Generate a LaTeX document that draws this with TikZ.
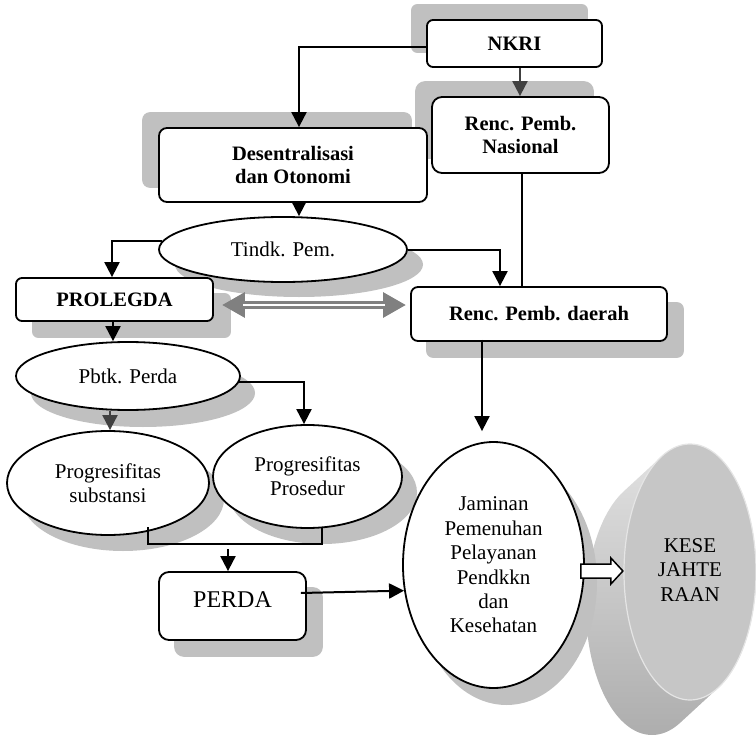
\documentclass[tikz,border=0pt]{standalone}
\usepackage{fontspec}
\setmainfont{Liberation Serif}
\usetikzlibrary{shapes.geometric,arrows.meta,calc,backgrounds}

\definecolor{shadowgray}{RGB}{192,192,192}
\definecolor{darkarrow}{RGB}{64,64,64}
\definecolor{linkgray}{RGB}{128,128,128}
\definecolor{faceg}{RGB}{198,198,198}

\tikzset{
  box/.style={draw, line width=1.8pt, fill=white, rounded corners=7pt,
    align=center, inner sep=0pt},
  oval/.style={draw, ellipse, line width=1.8pt, fill=white, align=center,
    inner sep=0pt, font=\fontsize{21}{24.4}\selectfont},
  bft/.style={font=\fontsize{20.5}{23.5}\selectfont\bfseries},
  conn/.style={line width=2pt},
  arr/.style={conn, -{Triangle[length=15pt,width=15pt]}},
  arrdark/.style={arr, draw=darkarrow},
  shade box/.style={fill=shadowgray},
}

\begin{document}
\begin{tikzpicture}[x=1pt, y=-1pt]
\useasboundingbox (0,0) rectangle (756,736);

% ---- nodes ----
\node[box, bft, rounded corners=6pt, minimum width=175pt, minimum height=47pt] (nkri) at (514.5,43.5) {NKRI};
\node[box, bft, rounded corners=10pt, minimum width=177pt, minimum height=76pt] (nas) at (520.5,135) {Renc. Pemb.\\Nasional};
\node[box, bft, rounded corners=8pt, minimum width=268pt, minimum height=74pt] (des) at (293,165) {Desentralisasi\\dan Otonomi};
\node[oval, minimum width=248pt, minimum height=65pt] (tindk) at (283,249.5) {Tindk. Pem.};
\node[box, bft, rounded corners=6pt, minimum width=197pt, minimum height=43pt] (prol) at (114.5,299.5) {PROLEGDA};
\node[box, bft, rounded corners=7pt, minimum width=256pt, minimum height=54pt] (daerah) at (539,314) {Renc. Pemb. daerah};
\node[oval, minimum width=224pt, minimum height=68pt] (pbtk) at (128,376) {Pbtk. Perda};
\node[oval, minimum width=202pt, minimum height=104pt] (subst) at (108,483) {Progresifitas\\substansi};
\node[oval, minimum width=189pt, minimum height=103pt] (pros) at (307.5,476.5) {Progresifitas\\Prosedur};
\node[box, rounded corners=10pt, minimum width=147pt, minimum height=68pt, text depth=12pt,
      font=\fontsize{24}{28}\selectfont] (perda) at (232.5,606) {PERDA};
\node[oval, minimum width=181pt, minimum height=246pt] (jam) at (493.5,565)
  {Jaminan\\Pemenuhan\\Pelayanan\\Pendkkn\\dan\\Kesehatan};

% ---- disc "KESE JAHTE RAAN" and all drop shadows ----
\coordinate (discback) at (652,607);
\coordinate (discfront) at (690,572);
\begin{pgfonlayer}{background}
  \begin{scope}
    \clip foreach \i in {0,...,24} { ($(discback)!{\i/24}!(discfront)$) ellipse [x radius=66pt, y radius=128pt] };
    \shade[top color=white!89!black, middle color=white!86!black, bottom color=white!68!black]
      (570,440) rectangle (756,736);
  \end{scope}
  \fill[faceg] (discfront) ellipse [x radius=66pt, y radius=128pt];
  \draw[white!90!black, line width=1.2pt] (discfront) ellipse [x radius=66pt, y radius=128pt];

  % shadows up-left
  \fill[shade box, rounded corners=6pt] ($(nkri.south west)+(-15,-15)$) rectangle ($(nkri.north east)+(-15,-15)$);
  \fill[shade box, rounded corners=10pt] ($(nas.south west)+(-16,-15)$) rectangle ($(nas.north east)+(-16,-15)$);
  \fill[shade box, rounded corners=8pt] ($(des.south west)+(-16,-15)$) rectangle ($(des.north east)+(-16,-15)$);
  % shadows down-right
  \fill[shade box, rounded corners=6pt] ($(prol.south west)+(17,16)$) rectangle ($(prol.north east)+(17,16)$);
  \fill[shade box, rounded corners=7pt] ($(daerah.south west)+(16,16)$) rectangle ($(daerah.north east)+(16,16)$);
  \fill[shade box, rounded corners=10pt] ($(perda.south west)+(16,16)$) rectangle ($(perda.north east)+(16,16)$);
  \fill[shade box] ($(tindk.center)+(16,15)$) ellipse [x radius=124pt, y radius=32.5pt];
  \fill[shade box] ($(pbtk.center)+(15,17)$) ellipse [x radius=112pt, y radius=34pt];
  \fill[shade box] ($(subst.center)+(15,16)$) ellipse [x radius=101pt, y radius=52pt];
  \fill[shade box] ($(pros.center)+(15,16)$) ellipse [x radius=94.5pt, y radius=51.5pt];
  \fill[shade box] ($(jam.center)+(13,17)$) ellipse [x radius=90.5pt, y radius=123pt];
\end{pgfonlayer}

\node[align=center, font=\fontsize{21}{24.4}\selectfont] (kese) at (690,570) {KESE\\JAHTE\\RAAN};

% ---- helper points for connectors ----
\coordinate (a1) at ($(nkri.west)+(0,3)$);
\coordinate (a1e) at ($(des.north)+(6,0)$);
\coordinate (a2) at ($(nkri.south)+(5.5,0)$);
\coordinate (a3) at ($(des.south)+(6,0)$);
\coordinate (a4e) at ($(prol.north)+(-2.5,0)$);
\coordinate (a5e) at ($(daerah.north)+(-39,0)$);
\coordinate (a6) at ($(nas.south)+(1.5,0)$);
\coordinate (a7) at ($(prol.south)+(-1.5,0)$);
\coordinate (a8e) at ($(pros.north)+(-3.5,0)$);
\coordinate (a9) at ($(pbtk.south)+(-18,0)$);
\coordinate (bl) at ($(subst.center)+(40,44)$);
\coordinate (br) at ($(pros.center)+(14.5,50.5)$);
\coordinate (a10s) at ($(perda.north)+(-4.5,-22)$);
\coordinate (a10e) at ($(perda.north)+(-4.5,0)$);
\coordinate (a11s) at ($(perda.east)+(-6,-13)$);
\coordinate (a12s) at ($(daerah.south)+(-57,-2)$);
\coordinate (a12e) at ($(jam.north)+(-11.5,-10)$);
\coordinate (dl) at ($(prol.east)+(8,5.5)$);
\coordinate (dr) at ($(daerah.west)+(-4,-9)$);
\coordinate (ba) at ($(jam.east)+(-4,6)$);

% ---- connectors ----
\draw[arr] (a1) -| (a1e);
\draw[arrdark] (a2) -- (a2 |- nas.north);
\draw[arr] (a3) -- (a3 |- tindk.north);
\draw[arr] (tindk.176) -| (a4e);
\draw[arr] (tindk.east) -| (a5e);
\draw[conn] (a6) -- (a6 |- daerah.north);
\draw[arr] (a7) -- (a7 |- pbtk.north);
\draw[arr] (pbtk.-3) -| (a8e);
\draw[arrdark] (a9) -- (a9 |- subst.north);
\draw[conn] (bl) -- ++(0,17) -| (br);
\draw[arr] (a10s) -- (a10e);
\draw[arr] (a11s) -- (jam.196);
\draw[arr] (a12s) -- (a12e);

% two-way link between PROLEGDA and regional plan
\draw[linkgray, line width=7.5pt,
  {Triangle[length=23pt,width=24pt]}-{Triangle[length=23pt,width=24pt]}] (dl) -- (dr);
\draw[white, line width=2.5pt, shorten <=21pt, shorten >=21pt] (dl) -- (dr);

% hollow block arrow into the disc
\draw[fill=white, line width=1.5pt, line join=miter]
  (ba) ++(0,-7) -- ++(30,0) -- ++(0,-6) -- ++(12,13) -- ++(-12,13) -- ++(0,-6) -- ++(-30,0) -- cycle;
\end{tikzpicture}
\end{document}
